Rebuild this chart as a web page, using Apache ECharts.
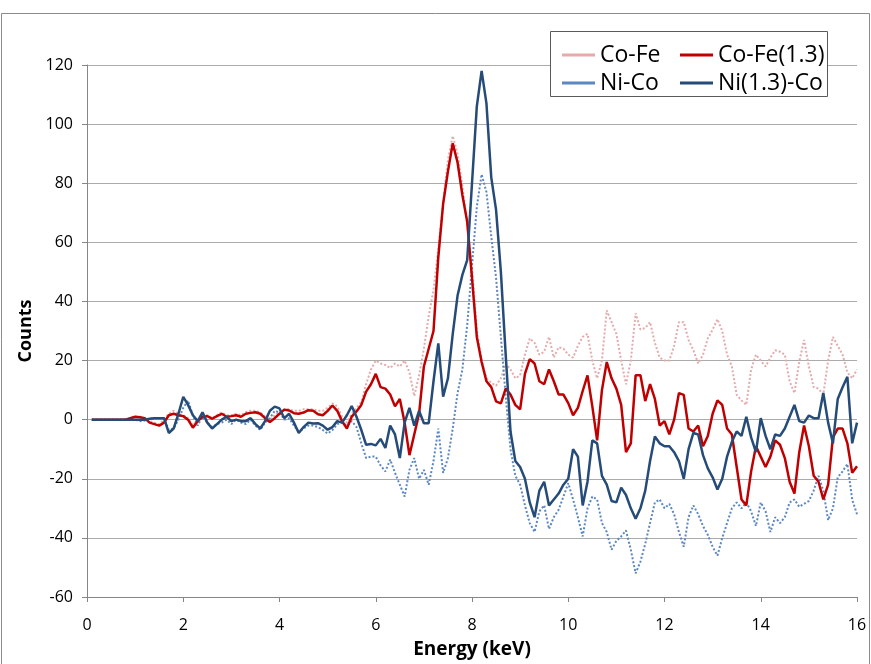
<!DOCTYPE html>
<html>
<head>
<meta charset="utf-8">
<script src="https://cdn.jsdelivr.net/npm/echarts@6/dist/echarts.min.js"></script>
<style>
  html, body { margin: 0; padding: 0; background: #fff; }
  #chart { width: 871px; height: 664px; }
</style>
</head>
<body>
<div id="chart"></div>
<script>
// energy axis (keV)
const energy = [
  0.1, 0.2, 0.3, 0.4, 0.5, 0.6, 0.7, 0.8, 0.9, 1.0,
  1.1, 1.2, 1.3, 1.4, 1.5, 1.6, 1.7, 1.8, 1.9, 2.0,
  2.1, 2.2, 2.3, 2.4, 2.5, 2.6, 2.7, 2.8, 2.9, 3.0,
  3.1, 3.2, 3.3, 3.4, 3.5, 3.6, 3.7, 3.8, 3.9, 4.0,
  4.1, 4.2, 4.3, 4.4, 4.5, 4.6, 4.7, 4.8, 4.9, 5.0,
  5.1, 5.2, 5.3, 5.4, 5.5, 5.6, 5.7, 5.8, 5.9, 6.0,
  6.1, 6.2, 6.3, 6.4, 6.5, 6.6, 6.7, 6.8, 6.9, 7.0,
  7.1, 7.2, 7.3, 7.4, 7.5, 7.6, 7.7, 7.8, 7.9, 8.0,
  8.1, 8.2, 8.3, 8.4, 8.5, 8.6, 8.7, 8.8, 8.9, 9.0,
  9.1, 9.2, 9.3, 9.4, 9.5, 9.6, 9.7, 9.8, 9.9, 10.0,
  10.1, 10.2, 10.3, 10.4, 10.5, 10.6, 10.7, 10.8, 10.9, 11.0,
  11.1, 11.2, 11.3, 11.4, 11.5, 11.6, 11.7, 11.8, 11.9, 12.0,
  12.1, 12.2, 12.3, 12.4, 12.5, 12.6, 12.7, 12.8, 12.9, 13.0,
  13.1, 13.2, 13.3, 13.4, 13.5, 13.6, 13.7, 13.8, 13.9, 14.0,
  14.1, 14.2, 14.3, 14.4, 14.5, 14.6, 14.7, 14.8, 14.9, 15.0,
  15.1, 15.2, 15.3, 15.4, 15.5, 15.6, 15.7, 15.8, 15.9, 16.0
]

const coFe = [
  0, 0, 0, 0, 0, 0, 0, 0, 0.5, 1,
  1, 0.5, -0.5, -1, -1.5, 0, 2, 3, 2, 1.5,
  0.5, -2, 0, 1.5, 1.5, 0.5, 1.5, 2.5, 1.5, 1.5,
  2, 1.5, 2.5, 3, 3, 2.5, 1, 0, 1.5, 2.5,
  3.5, 3.5, 3, 3, 3.5, 3.5, 3.5, 3, 3, 4,
  5.5, 4.5, 1, -1, 2, 4, 6, 12, 17, 20,
  19, 18.5, 17.5, 19, 18, 20, 16, 8, 15, 24,
  35, 44, 58, 73, 88, 96, 90, 79, 66, 52,
  30, 20, 14, 12.5, 11.5, 14, 19, 17, 14, 15,
  22, 27.5, 26, 22, 23, 28, 21, 24.5, 24, 22,
  21, 25, 28, 29, 20, 14, 20, 37, 33, 29,
  20, 12, 20, 36, 30.5, 31, 33, 26, 21, 20,
  20, 25, 33, 33, 27, 23.5, 19, 22, 27.5, 30.5,
  34, 30, 22, 18, 8.4, 6.5, 5, 17, 22, 20,
  18, 21, 23.5, 23, 22, 13, 9, 19.6, 27, 18,
  11, 10.5, 8.5, 20, 28, 25, 22, 16, 14, 17
]

const coFe13 = [
  0, 0, 0, 0, 0, 0, 0, 0, 0.5, 1,
  0.8, 0.5, -1, -1.5, -2, -1, 1.5, 2, 1.5, 1.2,
  0, -2.7, -0.5, 1, 1.2, 0.3, 1.2, 2, 1, 1.2,
  1.5, 1, 2, 2.3, 2.5, 2, 0.5, -0.8, 0.5, 2,
  3.4, 3.1, 2.2, 2, 2.4, 3.2, 3, 1.8, 1.5, 3,
  4.8, 3, -0.5, -3, 1, 2.8, 5, 9.5, 12, 15.5,
  11, 10.5, 8.5, 4.5, 7, -1, -12, -5, 2, 18,
  24, 30, 55, 73, 84, 93.5, 87, 76, 67, 48,
  28, 19.5, 13, 11, 6.2, 5.5, 10.5, 8.5, 5, 3.5,
  15.5, 20.5, 19, 13, 12, 17, 13, 8.5, 8.5, 5.6,
  1.5, 4, 9.7, 15, 4.5, -7, 10, 19.5, 14, 10.5,
  5, -11, -8, 15, 15, 6.3, 12, 7, -2, -0.5,
  -5, 0, 9, 8.4, -3, -4, -2, -9, -5.5, 2,
  6.5, 5, -3, -5, -16, -27, -29, -17.5, -9, -12.5,
  -16, -12.5, -7, -8.5, -13, -21, -25, -11, -2, -9,
  -19, -21, -27, -22, -6, -3, -3, -8, -18, -15.8
]

const niCo = [
  0, 0, 0, 0, 0, 0, 0, 0, 0, 0,
  -0.5, -0.3, 0.3, 0.5, 0.5, 0.5, -3.5, -3, 0, 4,
  6.5, 1.5, -2, 1, -1, -2.5, -1.5, -1, 0, -1.5,
  0, -1, -1.5, 0, -2, -3.5, -1, 0.5, 3, 2.5,
  0, 0.5, -2, -4, -3, -2, -2, -2.5, -3.5, -4.7,
  -3.5, -1.5, -1, -2, -0.5, -2.5, -8, -13, -12.5, -12.5,
  -15.5, -17.5, -13.5, -18, -22, -26, -17, -13, -20, -17,
  -22, -14, -3, -18, -13, -3, 9, 17, 32, 52,
  72, 83, 77, 62, 48, 28, 8, -10, -19, -22,
  -29, -35, -38, -31, -29, -37, -33, -30.5, -26, -21.5,
  -27, -33, -39.5, -30, -26, -27, -35, -38, -44, -41,
  -39.5, -37.5, -44, -52, -48, -42, -35, -28, -27, -30,
  -28.5, -32, -38, -43, -33, -29, -32, -36, -39, -43,
  -46, -40, -35, -30, -28, -30, -28, -31, -36, -28,
  -31, -38, -33, -35, -33, -28, -27, -29.5, -28.5, -27.5,
  -24, -19, -24, -34, -30, -19.5, -17.5, -15, -27, -32
]

const ni13Co = [
  0, 0, 0, 0, 0, 0, 0, 0, 0, 0,
  0, 0, 0.3, 0.5, 0.5, 0.5, -4.5, -3, 2, 7.7,
  5, 1.5, -0.5, 2.5, -1, -3, -1.5, 0, 1, -0.5,
  0, -0.5, -0.5, 0.5, -1.5, -3, -0.5, 3, 4.4, 3.8,
  0.5, 2, -1, -4.5, -2.5, -1, -1.3, -1.2, -2, -3.4,
  -2.5, -0.5, -1, 1.5, 4.6, 1, -3.5, -8.5, -8.2, -8.7,
  -6.5, -9.6, -2, -5, -13, -1, 4, -2, 3, -1.2,
  -1.2, 13, 25.8, 7.8, 14, 29, 42, 49, 54, 80,
  106, 118, 107, 82, 71, 50, 22, -4, -14, -16,
  -20, -28, -33, -24, -21, -29, -27, -25, -22, -20,
  -10, -12.5, -29, -21, -7, -8, -19, -22, -27.5, -28,
  -23, -25.5, -30, -33.5, -30, -24, -14, -5.7, -8, -9,
  -9, -11, -14, -20, -10, -4.5, -5, -12, -16.5, -19.5,
  -23.6, -20, -12.5, -7.5, -4, -5.5, 1, -6, -11, 0.5,
  -5.5, -10, -5, -5.5, -3, 1, 5, -0.5, -1, 1.4,
  0.5, 0.5, 9, -1, -8, 7, 11, 14.5, -8, -1
]

const yTicks = [-60, -40, -20, 0, 20, 40, 60, 80, 100, 120]

const font = '"Open Sans", sans-serif'
const pair = (vals) => energy.map((e, i) => [e, vals[i]])

const chart = echarts.init(document.getElementById('chart'))

const legendBase = {
  top: 37,
  orient: 'vertical',
  icon: 'rect',
  itemWidth: 33,
  itemHeight: 3,
  itemGap: 2,
  textStyle: { fontSize: 23, lineHeight: 26, color: '#000', fontFamily: font, padding: [0, 0, 0, 0] }
}

chart.setOption({
  animation: false,
  backgroundColor: '#fff',
  textStyle: { fontFamily: font },
  grid: { left: 87, right: 14, top: 65, bottom: 64 },
  graphic: [
    {
      type: 'rect',
      shape: { x: 1.5, y: 13.5, width: 868, height: 680 },
      style: { fill: 'none', stroke: '#8c8c8c', lineWidth: 1 },
      z: 1
    },
    {
      type: 'rect',
      shape: { x: 550.5, y: 31.5, width: 277, height: 65 },
      style: { fill: '#fff', stroke: '#5a5a5a', lineWidth: 1 },
      z: 3
    }
  ],
  legend: [
    Object.assign({}, legendBase, { left: 557, data: ['Co-Fe', 'Ni-Co'] }),
    Object.assign({}, legendBase, { left: 675, data: ['Co-Fe(1.3)', 'Ni(1.3)-Co'] })
  ],
  xAxis: {
    type: 'value',
    min: 0,
    max: 16,
    interval: 2,
    name: 'Energy (keV)',
    nameLocation: 'middle',
    nameGap: 43,
    nameTextStyle: { fontSize: 19, fontWeight: 'bold', color: '#000', fontFamily: font },
    axisLine: { onZero: false, lineStyle: { color: '#868686' } },
    axisTick: { show: true, length: 5, lineStyle: { color: '#868686' } },
    axisLabel: { fontSize: 16, color: '#000', margin: 20, fontFamily: font },
    splitLine: { show: false }
  },
  yAxis: {
    type: 'value',
    min: yTicks[0],
    max: yTicks[yTicks.length - 1],
    interval: 20,
    name: 'Counts',
    nameLocation: 'middle',
    nameGap: 46,
    nameTextStyle: { fontSize: 18, fontWeight: 'bold', color: '#000', fontFamily: font },
    axisLine: { show: true, lineStyle: { color: '#868686' } },
    axisTick: { show: true, length: 5, lineStyle: { color: '#868686' } },
    axisLabel: { fontSize: 16, color: '#000', margin: 14, fontFamily: font },
    splitLine: { lineStyle: { color: '#ababab' } }
  },
  series: [
    {
      name: 'Co-Fe', type: 'line', symbol: 'none', z: 2,
      color: '#e3abab',
      lineStyle: { width: 2, type: 'dotted', color: '#e3abab' },
      data: pair(coFe)
    },
    {
      name: 'Ni-Co', type: 'line', symbol: 'none', z: 2,
      color: '#5b87c2',
      lineStyle: { width: 2, type: 'dotted', color: '#5b87c2' },
      data: pair(niCo)
    },
    {
      name: 'Co-Fe(1.3)', type: 'line', symbol: 'none', z: 2,
      color: '#c00000',
      lineStyle: { width: 2.5, color: '#c00000' },
      data: pair(coFe13)
    },
    {
      name: 'Ni(1.3)-Co', type: 'line', symbol: 'none', z: 2,
      color: '#254b78',
      lineStyle: { width: 2.5, color: '#254b78' },
      data: pair(ni13Co)
    }
  ]
})
</script>
</body>
</html>
